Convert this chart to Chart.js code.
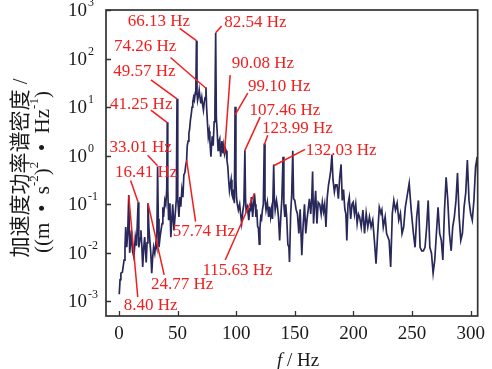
<!DOCTYPE html>
<html>
<head>
<meta charset="utf-8">
<script src="https://cdn.jsdelivr.net/npm/chart.js@4/dist/chart.umd.min.js"></script>
<style>
html,body{margin:0;padding:0;background:#fff;}
#wrap{width:492px;height:369px;}
canvas{display:block;}
</style>
</head>
<body>
<div id="wrap"><canvas id="c" width="492" height="369"></canvas></div>
<script>
// ---------------- data ----------------
const frequencyHz = [
  0.3, 1.0, 1.7, 3.0, 4.4, 5.2, 5.8, 6.7, 7.5, 8.4,
  9.2, 10.0, 10.7, 11.6, 12.8, 14.0, 15.0, 16.41, 17.0, 18.0,
  18.8, 19.6, 20.3, 21.2, 22.0, 23.3, 24.0, 24.77, 25.6, 26.4,
  27.2, 28.0, 28.8, 29.6, 30.6, 31.5, 32.3, 33.01, 33.6, 34.2,
  35.0, 35.9, 36.8, 37.5, 38.1, 39.2, 40.0, 40.8, 41.25, 41.7,
  42.4, 43.5, 44.3, 45.2, 45.9, 47.0, 48.3, 49.0, 49.57, 50.2,
  51.2, 52.0, 52.8, 53.7, 54.6, 55.4, 56.3, 57.0, 57.74, 58.3,
  59.0, 59.7, 60.3, 61.0, 61.7, 62.4, 63.0, 63.75, 64.4, 65.1,
  65.6, 66.13, 66.6, 67.1, 68.0, 68.5, 69.2, 69.9, 70.7, 71.4,
  72.1, 72.8, 73.5, 74.26, 74.8, 75.4, 76.25, 77.0, 77.6, 78.5,
  79.0, 79.6, 80.4, 81.25, 81.9, 82.54, 83.1, 83.75, 84.6, 85.3,
  86.0, 86.8, 87.9, 88.75, 89.4, 90.08, 90.8, 91.5, 92.2, 92.9,
  93.6, 94.3, 95.0, 95.7, 96.4, 97.1, 97.8, 98.5, 99.1, 99.8,
  100.3, 101.0, 101.9, 103.0, 103.8, 104.7, 105.8, 106.6, 107.46, 108.0,
  108.5, 109.6, 110.8, 111.5, 112.2, 113.0, 114.1, 114.9, 115.63, 116.3,
  116.9, 117.6, 118.3, 119.0, 119.7, 120.3, 121.0, 121.7, 122.4, 123.2,
  123.99, 124.6, 125.5, 126.6, 127.7, 128.5, 129.4, 130.2, 131.0, 132.03,
  132.6, 133.3, 134.4, 135.2, 136.1, 137.1, 138.0, 139.0, 140.0, 140.7,
  141.5, 142.3, 143.2, 144.1, 145.0, 145.5, 146.5, 147.4, 148.3, 149.0,
  150.0, 151.1, 152.3, 153.5, 154.6, 156.0, 157.0, 158.3, 159.4, 160.5,
  161.5, 162.5, 163.6, 164.5, 165.2, 166.0, 167.0, 167.8, 168.9, 170.0,
  171.3, 172.5, 173.5, 174.5, 175.5, 176.6, 177.7, 178.8, 179.8, 180.7,
  181.7, 182.6, 183.8, 184.8, 186.0, 187.2, 188.3, 189.5, 190.5, 191.6,
  192.7, 193.6, 194.4, 195.4, 196.5, 197.7, 198.8, 199.8, 200.9, 202.0,
  203.2, 204.3, 205.3, 206.7, 208.1, 209.5, 210.9, 212.3, 213.7, 215.1,
  216.5, 217.9, 219.3, 220.7, 222.1, 223.5, 224.3, 225.5, 227.1, 228.3,
  230.5, 231.8, 233.2, 234.5, 235.9, 237.3, 238.7, 240.1, 241.5, 242.9,
  244.3, 245.7, 247.6, 249.3, 251.2, 252.6, 254.0, 255.5, 256.9, 258.3,
  259.7, 261.1, 262.5, 263.8, 265.2, 266.6, 268.0, 269.4, 270.8, 272.2,
  273.6, 275.0, 276.3, 277.7, 279.1, 280.5, 281.9, 283.4, 284.7, 286.1,
  287.5, 288.8, 290.2, 291.6, 293.0, 294.4, 295.8, 297.2, 298.6, 300.0,
  301.4, 302.8, 304.2, 305.6, 306.8
];
const psdValues = [
  1.4e-3, 2.8e-3, 3.8e-3, 4.0e-3, 7.1e-3, 1.3e-2, 3.4e-2, 1.3e-2, 2.5e-2, 0.155,
  1.0e-2, 1.6e-2, 2.9e-2, 1.1e-2, 8.1e-3, 2.1e-2, 1.4e-2, 0.11, 1.3e-2, 2.0e-2,
  2.9e-2, 1.3e-2, 5.1e-3, 1.3e-2, 2.1e-2, 6.3e-3, 1.6e-2, 0.105, 3.2e-2, 1.8e-2,
  1.0e-2, 3.8e-3, 7.9e-3, 1.3e-2, 9.8e-3, 1.6e-2, 1.3e-2, 0.60, 5.0e-2, 1.3e-2,
  2.0e-2, 2.9e-2, 4.0e-2, 8.7e-2, 5.5e-2, 0.12, 0.10, 0.2, 4.9, 0.2,
  4.7e-2, 0.105, 2.1e-2, 5.0e-2, 0.10, 2.9e-2, 7.6e-2, 0.13, 14.8, 0.13,
  5.5e-2, 0.14, 8.9e-2, 0.20, 0.14, 0.40, 0.45, 0.63, 0.79, 1.6,
  2.0, 2.9, 3.5, 5.4, 7.1, 10, 12.6, 16, 14, 19.5,
  19, 234, 20, 13.8, 17.8, 22.4, 15.8, 12, 15.8, 11.2,
  8.7, 12.6, 15.8, 25.7, 10, 5.4, 2.45, 3.2, 2.0, 0.95,
  1.6, 2.5, 1.6, 5.0, 8.7, 339, 6.0, 3.4, 1.29, 2.0,
  2.24, 0.95, 2.0, 1.12, 1.6, 1.12, 1.41, 1.26, 0.79, 0.59,
  0.32, 0.19, 0.25, 0.32, 0.16, 0.14, 0.20, 0.105, 10.2, 0.32,
  0.14, 0.10, 7.6e-2, 0.10, 6.3e-2, 4.1e-2, 7.6e-2, 0.10, 1.29, 0.13,
  7.6e-2, 8.9e-2, 4.7e-2, 7.9e-2, 7.6e-2, 0.14, 5.5e-2, 0.10, 0.166, 0.10,
  5.5e-2, 7.9e-2, 3.5e-2, 3.2e-2, 1.5e-2, 3.2e-2, 5.5e-2, 5.0e-2, 7.6e-2, 0.10,
  1.78, 0.13, 7.6e-2, 0.11, 5.5e-2, 8.9e-2, 5.5e-2, 7.9e-2, 5.0e-2, 0.66,
  0.13, 7.6e-2, 0.12, 8.9e-2, 5.5e-2, 1.8e-2, 5.0e-2, 0.13, 0.95, 0.10,
  5.5e-2, 0.10, 5.0e-2, 1.5e-2, 1.3e-2, 6.5e-3, 6.3e-2, 0.16, 1.26, 0.13,
  0.12, 7.9e-2, 6.3e-2, 2.5e-2, 7.9e-2, 8.9e-3, 3.2e-2, 0.10, 2.5e-2, 5.0e-2,
  7.9e-2, 0.13, 6.3e-2, 0.13, 0.47, 4.0e-2, 0.10, 0.19, 4.0e-2, 0.11,
  0.10, 6.3e-2, 0.11, 7.1e-2, 0.10, 3.4e-2, 0.14, 0.25, 0.35, 0.50,
  1.05, 0.32, 0.18, 0.25, 0.25, 0.13, 0.35, 0.66, 0.12, 0.20,
  7.9e-2, 6.3e-2, 1.8e-2, 0.10, 0.14, 5.0e-2, 0.10, 0.11, 6.3e-2, 0.10,
  4.0e-2, 6.3e-2, 5.5e-2, 3.4e-2, 7.6e-2, 2.5e-2, 6.5e-2, 3.4e-2, 5.5e-2, 3.4e-2,
  4.7e-2, 1.8e-2, 6.0e-3, 2.5e-2, 8.7e-2, 6.5e-2, 7.6e-2, 3.4e-2, 5.5e-2, 2.5e-2,
  1.8e-2, 5.1e-3, 6.5e-2, 0.12, 7.6e-2, 0.105, 4.7e-2, 6.5e-2, 2.5e-2, 3.4e-2,
  8.7e-2, 0.14, 0.27, 7.6e-2, 2.5e-2, 1.3e-2, 5.5e-2, 0.12, 1.3e-2, 1.1e-2,
  1.1e-2, 1.3e-2, 3.4e-2, 0.12, 1.3e-2, 9.8e-3, 3.8e-3, 7.1e-3, 2.5e-2, 8.7e-2,
  2.5e-2, 1.8e-2, 7.1e-3, 7.6e-2, 0.36, 0.12, 2.5e-2, 1.1e-2, 3.4e-2, 5.5e-2,
  0.12, 0.44, 5.5e-2, 1.8e-2, 2.5e-2, 8.7e-2, 0.17, 0.81, 0.12, 6.5e-2,
  4.7e-2, 0.12, 0.59, 0.95, 0.10
];

// axis ticks
const xTickValues = [0, 50, 100, 150, 200, 250, 300];
const yTickExponents = [-3, -2, -1, 0, 1, 2, 3];

// peak annotations: label text, label anchor (left-middle), leader line start/end (data coords)
const annotationText = ["66.13 Hz", "82.54 Hz", "74.26 Hz", "49.57 Hz", "41.25 Hz", "33.01 Hz", "16.41 Hz", "8.40 Hz",
  "24.77 Hz", "57.74 Hz", "115.63 Hz", "90.08 Hz", "99.10 Hz", "107.46 Hz", "123.99 Hz", "132.03 Hz"];
const labelHz  = [7.5, 89.9, -4.2, -4.8, -7.5, -8.1, -3.3, 4.2, 27.3, 45.9, 71.2, 96.2, 110.2, 111.3, 122.1, 159.4];
const labelPsd = [589, 550, 174, 55, 11.5, 1.45, 0.44, 8.3e-4, 2.24e-3, 2.75e-2, 4.4e-3, 78, 26.3, 8.7, 3.6, 1.29];
const leaderFromHz  = [51.8, 87.6, 44.0, 27.3, 27.3, 24.5, 10.0, 8.4, 24.77, 57.74, 90.7, 94.9, 109.9, 120.5, 126.9, 158.8];
const leaderFromPsd = [417, 468, 105, 36.3, 8.7, 1.02, 0.31, 0.15, 0.105, 0.81, 7.1e-3, 45.7, 19.5, 6.3, 2.63, 1.35];
const leaderToHz    = [66.13, 82.54, 74.26, 49.57, 41.25, 33.01, 16.41, 16.1, 38.6, 65.4, 115.63, 90.08, 99.10, 107.46, 123.99, 132.03];
const leaderToPsd   = [234, 339, 24.5, 14.8, 4.8, 0.62, 0.11, 1.23e-3, 3.5e-3, 4.4e-2, 0.166, 1.12, 6.9, 1.29, 1.66, 0.62];

// ---------------- styles ----------------
const LINE_COLOR = '#28285a';
const RED = '#f21d1d';
const FRAME = '#333333';
const SERIF = '"Liberation Serif", "Times New Roman", serif';

function drawRich(ctx, segs, size, supSize, cx, cy) {
  // segs: [text, isSup]
  let total = 0;
  const widths = segs.map(([t, s]) => {
    ctx.font = (s ? supSize : size) + 'px ' + SERIF + ', "Noto Sans CJK SC"';
    const w = ctx.measureText(t).width; total += w; return w;
  });
  let xx = cx - total / 2;
  segs.forEach(([t, s], i) => {
    ctx.font = (s ? supSize : size) + 'px ' + SERIF + ', "Noto Sans CJK SC"';
    ctx.fillText(t, xx, s ? cy - size * 0.38 : cy);
    xx += widths[i];
  });
}

const decor = {
  id: 'decor',
  afterDatasetsDraw(chart) {
    const { ctx, scales: { x, y } } = chart;
    ctx.save();
    ctx.strokeStyle = RED; ctx.lineWidth = 1.5;
    for (let i = 0; i < annotationText.length; i++) {
      ctx.beginPath();
      ctx.moveTo(x.getPixelForValue(leaderFromHz[i]), y.getPixelForValue(leaderFromPsd[i]));
      ctx.lineTo(x.getPixelForValue(leaderToHz[i]), y.getPixelForValue(leaderToPsd[i]));
      ctx.stroke();
    }
    ctx.fillStyle = RED;
    ctx.font = '17px ' + SERIF;
    ctx.textAlign = 'left'; ctx.textBaseline = 'middle';
    for (let i = 0; i < annotationText.length; i++) {
      ctx.fillText(annotationText[i], x.getPixelForValue(labelHz[i]), y.getPixelForValue(labelPsd[i]));
    }
    ctx.restore();
  },
  afterDraw(chart) {
    const { ctx, chartArea: a, scales: { x, y } } = chart;
    ctx.save();
    // frame
    ctx.strokeStyle = FRAME; ctx.lineWidth = 1.7;
    ctx.strokeRect(a.left, a.top, a.right - a.left, a.bottom - a.top);
    // inward ticks
    ctx.lineWidth = 1.3;
    ctx.beginPath();
    xTickValues.forEach(v => { const px = Math.round(x.getPixelForValue(v)) + 0.5; ctx.moveTo(px, a.bottom); ctx.lineTo(px, a.bottom - 5); });
    yTickExponents.forEach(e => { const py = Math.round(y.getPixelForValue(Math.pow(10, e))) + 0.5; ctx.moveTo(a.left, py); ctx.lineTo(a.left + 5, py); });
    ctx.stroke();
    // y tick labels 10^n
    ctx.fillStyle = '#1a1a1a';
    yTickExponents.forEach(e => {
      const py = y.getPixelForValue(Math.pow(10, e));
      ctx.textBaseline = 'middle';
      ctx.textAlign = 'right';
      ctx.font = '19px ' + SERIF;
      ctx.fillText('10', 87, py + 1);
      ctx.textAlign = 'left';
      ctx.font = '12px ' + SERIF;
      ctx.fillText(e < 0 ? '-' + Math.abs(e) : String(e), 88, py - 7);
    });
    // x title
    ctx.textBaseline = 'alphabetic'; ctx.textAlign = 'left';
    ctx.font = 'italic 19px ' + SERIF;
    const fW = ctx.measureText('f').width;
    ctx.font = '19px ' + SERIF;
    const restW = ctx.measureText(' / Hz').width;
    const startX = 298 - (fW + restW) / 2;
    ctx.font = 'italic 19px ' + SERIF;
    ctx.fillText('f', startX, 366);
    ctx.font = '19px ' + SERIF;
    ctx.fillText(' / Hz', startX + fW, 366);
    // y title (two rotated lines)
    ctx.textBaseline = 'middle';
    ctx.save();
    ctx.translate(21, 168); ctx.rotate(-Math.PI / 2);
    ctx.textAlign = 'left';
    drawRich(ctx, [['加速度功率谱密度 /', false]], 21, 12, 0, 0);
    ctx.restore();
    ctx.save();
    ctx.translate(43, 172); ctx.rotate(-Math.PI / 2);
    ctx.textAlign = 'left';
    drawRich(ctx, [['((m  •  s', false], ['-2', true], [')', false], ['2', true], ['  •  Hz', false], ['-1', true], [')', false]], 21, 13, 0, 0);
    ctx.restore();
    ctx.restore();
  }
};

new Chart(document.getElementById('c'), {
  type: 'line',
  data: {
    datasets: [{
      data: frequencyHz.map((f, i) => ({ x: f, y: psdValues[i] })),
      borderColor: LINE_COLOR,
      borderWidth: 1.7,
      pointRadius: 0,
      tension: 0,
      fill: false
    }]
  },
  options: {
    responsive: false,
    animation: false,
    devicePixelRatio: 1,
    layout: { padding: { top: 10, right: 6, left: 0, bottom: 0 } },
    plugins: { legend: { display: false }, tooltip: { enabled: false } },
    scales: {
      x: {
        type: 'linear', min: -11, max: 306,
        afterBuildTicks: s => { s.ticks = xTickValues.map(v => ({ value: v })); },
        afterFit: s => { s.height = 53; },
        grid: { display: false, drawTicks: false },
        border: { display: false },
        ticks: { color: '#1a1a1a', font: { family: SERIF, size: 19 }, padding: 7, maxRotation: 0, autoSkip: false }
      },
      y: {
        type: 'logarithmic', min: 5e-4, max: 1000,
        afterBuildTicks: s => { s.ticks = yTickExponents.map(e => ({ value: Math.pow(10, e) })); },
        afterFit: s => { s.width = 106; },
        grid: { display: false, drawTicks: false },
        border: { display: false },
        ticks: { display: false }
      }
    }
  },
  plugins: [decor]
});
</script>
</body>
</html>
